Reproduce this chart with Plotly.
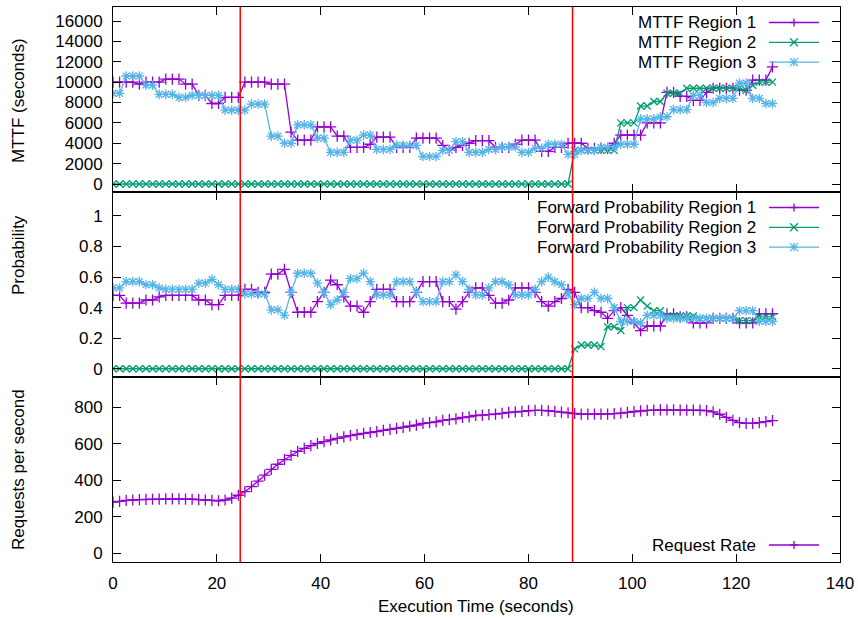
import plotly.graph_objects as go
from plotly.subplots import make_subplots

# ---------------- data ----------------
times = [round(1.27 * i, 2) for i in range(101)]
event_times = [24.5, 88.5]

mttf_r1 = [10000,10000,10000,10000,9800,10000,10000,10000,10300,10300,
           10300,9800,9800,8700,8700,7900,7900,8500,8500,8500,
           10000,10000,10000,10000,9800,9800,9800,5100,4300,4300,
           4300,5600,5600,5600,4700,4700,3600,3600,3600,3900,
           4600,4600,4600,3600,3600,3600,4500,4500,4500,4500,
           3800,3300,3600,3800,4000,4250,4250,4250,3600,3600,
           3600,3900,4300,4300,4300,3200,3200,3600,3600,4000,
           4000,4000,3500,3500,3500,3500,4000,4800,4800,4800,
           4800,6000,6000,6000,9000,9000,8600,8600,8200,8200,
           9000,9400,9400,9400,9400,9200,9200,10200,10200,10200,
           11500]
mttf_r2 = [0,0,0,0,0,0,0,0,0,0,
           0,0,0,0,0,0,0,0,0,0,
           0,0,0,0,0,0,0,0,0,0,
           0,0,0,0,0,0,0,0,0,0,
           0,0,0,0,0,0,0,0,0,0,
           0,0,0,0,0,0,0,0,0,0,
           0,0,0,0,0,0,0,0,0,0,
           3300,3300,3300,3300,3300,3300,3300,6000,6000,6000,
           7650,7650,8100,8100,8900,8900,8900,9400,9400,9400,
           9400,9400,9400,9400,9400,9400,9200,9700,10000,10000,
           10000]
mttf_r3 = [8900,8900,10600,10600,10600,9700,9700,8800,8800,8800,
           8500,8500,8700,8700,8700,8700,8700,7250,7250,7250,
           7250,7850,7850,7850,4700,4700,4000,4000,5800,5800,
           5800,4500,4500,3100,3100,3100,4300,4300,4800,4800,
           3400,3400,3400,3800,3800,3800,3800,2700,2700,2700,
           3300,3300,4150,4150,3100,3100,3100,3400,3400,3650,
           3650,3650,3100,3100,3500,3500,3900,3900,3900,2900,
           2900,3300,3300,3300,3600,3600,3600,3900,3900,3900,
           6400,6400,6400,6600,6600,7300,7300,7300,8700,8700,
           8000,8000,8400,8400,8400,9900,9900,8400,8400,7900,
           7900]

fp_r1 = [0.48,0.48,0.43,0.43,0.43,0.45,0.45,0.47,0.48,0.48,
         0.48,0.48,0.48,0.45,0.45,0.42,0.42,0.48,0.48,0.48,
         0.52,0.52,0.5,0.5,0.62,0.62,0.65,0.5,0.37,0.37,
         0.37,0.44,0.5,0.58,0.55,0.47,0.41,0.41,0.37,0.44,
         0.52,0.52,0.52,0.44,0.44,0.44,0.5,0.57,0.57,0.57,
         0.44,0.44,0.39,0.44,0.5,0.53,0.53,0.48,0.43,0.43,
         0.45,0.53,0.53,0.53,0.5,0.44,0.41,0.44,0.46,0.52,
         0.5,0.4,0.4,0.38,0.37,0.33,0.38,0.4,0.35,0.3,
         0.25,0.28,0.28,0.28,0.36,0.36,0.34,0.34,0.3,0.3,
         0.3,0.33,0.33,0.33,0.33,0.3,0.3,0.3,0.36,0.36,
         0.36]
fp_r2 = [0,0,0,0,0,0,0,0,0,0,
         0,0,0,0,0,0,0,0,0,0,
         0,0,0,0,0,0,0,0,0,0,
         0,0,0,0,0,0,0,0,0,0,
         0,0,0,0,0,0,0,0,0,0,
         0,0,0,0,0,0,0,0,0,0,
         0,0,0,0,0,0,0,0,0,0,
         0.13,0.155,0.155,0.155,0.145,0.275,0.275,0.25,0.4,0.4,
         0.45,0.41,0.38,0.38,0.345,0.345,0.345,0.345,0.345,0.33,
         0.33,0.33,0.33,0.33,0.33,0.315,0.315,0.315,0.34,0.34,
         0.34]
fp_r3 = [0.53,0.53,0.57,0.57,0.57,0.55,0.55,0.53,0.52,0.52,
         0.52,0.52,0.52,0.56,0.56,0.585,0.55,0.52,0.52,0.52,
         0.49,0.49,0.49,0.49,0.385,0.385,0.35,0.5,0.625,0.625,
         0.625,0.56,0.5,0.42,0.45,0.5,0.59,0.59,0.625,0.57,
         0.483,0.483,0.483,0.57,0.57,0.57,0.5,0.44,0.44,0.44,
         0.57,0.57,0.614,0.57,0.52,0.483,0.483,0.53,0.57,0.57,
         0.55,0.483,0.483,0.483,0.52,0.57,0.6,0.57,0.55,0.49,
         0.42,0.46,0.46,0.5,0.46,0.46,0.4,0.31,0.31,0.31,
         0.3,0.35,0.35,0.35,0.33,0.33,0.33,0.33,0.33,0.33,
         0.33,0.33,0.33,0.33,0.33,0.38,0.38,0.38,0.31,0.31,
         0.31]

request_rate = [280,285,290,292,294,295,296,297,298,298,
                298,297,296,294,292,290,288,292,302,318,
                338,365,395,428,460,488,513,537,558,575,
                590,602,612,621,630,638,645,651,657,662,
                667,674,679,684,690,696,702,712,716,720,
                728,732,737,744,748,755,757,760,763,767,
                772,775,778,782,783,783,781,778,774,770,
                766,763,763,763,763,763,765,768,772,777,
                780,783,785,786,786,786,785,785,785,784,
                782,775,762,745,728,716,712,712,716,721,
                727]

mttf_names = ["MTTF Region 1", "MTTF Region 2", "MTTF Region 3"]
fp_names = ["Forward Probability Region 1", "Forward Probability Region 2",
            "Forward Probability Region 3"]
rate_name = "Request Rate"

# ---------------- style ----------------
W, H = 858, 619
L, R, T, B = 113, 840, 7, 562
FONT = "Liberation Sans, Arial, Helvetica, sans-serif"
FS = 17
COLORS = ["#9400D3", "#009E73", "#56B4E9"]
SYMBOLS = ["cross-thin", "x-thin", "asterisk"]
MSIZE = [8, 7, 8]


def xp(px):
    return (px - L) / (R - L)


def yp(py):
    return (B - py) / (B - T)


fig = make_subplots(rows=3, cols=1, shared_xaxes=True, vertical_spacing=0)


def add_series(y, k, row):
    fig.add_trace(go.Scatter(
        x=times, y=y, mode="lines+markers",
        line=dict(color=COLORS[k], width=1.3),
        marker=dict(symbol=SYMBOLS[k], size=MSIZE[k], color=COLORS[k],
                    line=dict(color=COLORS[k], width=1.3)),
        showlegend=False, hoverinfo="skip"), row=row, col=1)


for k, s in enumerate([mttf_r1, mttf_r2, mttf_r3]):
    add_series(s, k, 1)
for k, s in enumerate([fp_r1, fp_r2, fp_r3]):
    add_series(s, k, 2)
add_series(request_rate, 0, 3)

axis_common = dict(showline=True, linecolor="black", linewidth=1, mirror="ticks",
                   ticks="inside", ticklen=8, tickcolor="black", tickwidth=1,
                   showgrid=False, zeroline=False,
                   tickfont=dict(family=FONT, size=FS, color="black"),
                   ticklabelstandoff=6)

for r in (1, 2, 3):
    fig.update_xaxes(range=[0, 140], tick0=0, dtick=20, row=r, col=1, **axis_common)
fig.update_xaxes(showticklabels=True, row=3, col=1)

fig.update_yaxes(range=[-785, 17374], tick0=0, dtick=2000, tickformat="d",
                 row=1, col=1, **axis_common)
fig.update_yaxes(range=[-0.054, 1.157], tickvals=[0, 0.2, 0.4, 0.6, 0.8, 1.0],
                 ticktext=["0", "0.2", "0.4", "0.6", "0.8", "1"], row=2, col=1, **axis_common)
fig.update_yaxes(range=[-47.7, 966], tick0=0, dtick=200, tickformat="d",
                 row=3, col=1, **axis_common)

fig.layout.yaxis.domain = [2 / 3, 1]
fig.layout.yaxis2.domain = [1 / 3, 2 / 3]
fig.layout.yaxis3.domain = [0, 1 / 3]

shapes = []
annotations = []

# event markers (red vertical lines spanning all panels)
for et in event_times:
    shapes.append(dict(type="line", xref="x", yref="paper", x0=et, x1=et, y0=0, y1=1,
                       line=dict(color="#FF0000", width=1.5), layer="above"))


def legend_entry(text, py, k):
    annotations.append(dict(text=text, xref="paper", yref="paper", x=xp(757), y=yp(py),
                            xanchor="right", yanchor="middle", showarrow=False,
                            borderpad=0,
                            font=dict(family=FONT, size=FS, color="black")))
    c = COLORS[k]
    shapes.append(dict(type="line", xref="paper", yref="paper", x0=xp(769), x1=xp(819),
                       y0=yp(py), y1=yp(py), line=dict(color=c, width=1.3)))
    cx, h = 794, 4
    segs = []
    if k in (0, 2):
        segs += [((cx - h, py), (cx + h, py)), ((cx, py - h), (cx, py + h))]
    if k in (1, 2):
        segs += [((cx - h, py - h), (cx + h, py + h)), ((cx - h, py + h), (cx + h, py - h))]
    for (a, b) in segs:
        shapes.append(dict(type="line", xref="paper", yref="paper",
                           x0=xp(a[0]), y0=yp(a[1]), x1=xp(b[0]), y1=yp(b[1]),
                           line=dict(color=c, width=1.3)))


for k, (name, py) in enumerate(zip(mttf_names, [22.5, 42.3, 62.1])):
    legend_entry(name, py, k)
for k, (name, py) in enumerate(zip(fp_names, [207.5, 227.3, 247.1])):
    legend_entry(name, py, k)
legend_entry(rate_name, 545, 0)

# axis titles
for text, py in [("MTTF (seconds)", 101), ("Probability", 255), ("Requests per second", 470)]:
    annotations.append(dict(text=text, xref="paper", yref="paper", x=xp(18), y=yp(py),
                            xanchor="center", yanchor="middle", textangle=-90, showarrow=False,
                            font=dict(family=FONT, size=FS, color="black")))
annotations.append(dict(text="Execution Time (seconds)", xref="paper", yref="paper",
                        x=xp(476), y=yp(606), xanchor="center", yanchor="middle",
                        showarrow=False, font=dict(family=FONT, size=FS, color="black")))

fig.update_layout(width=W, height=H, margin=dict(l=L, r=W - R, t=T, b=H - B, autoexpand=False),
                  paper_bgcolor="white", plot_bgcolor="white", showlegend=False,
                  shapes=shapes, annotations=annotations,
                  font=dict(family=FONT, size=FS, color="black"))

fig.write_html("out.html", config={"displayModeBar": False},
               post_script="document.body.style.margin='0';document.body.style.overflow='hidden';")
